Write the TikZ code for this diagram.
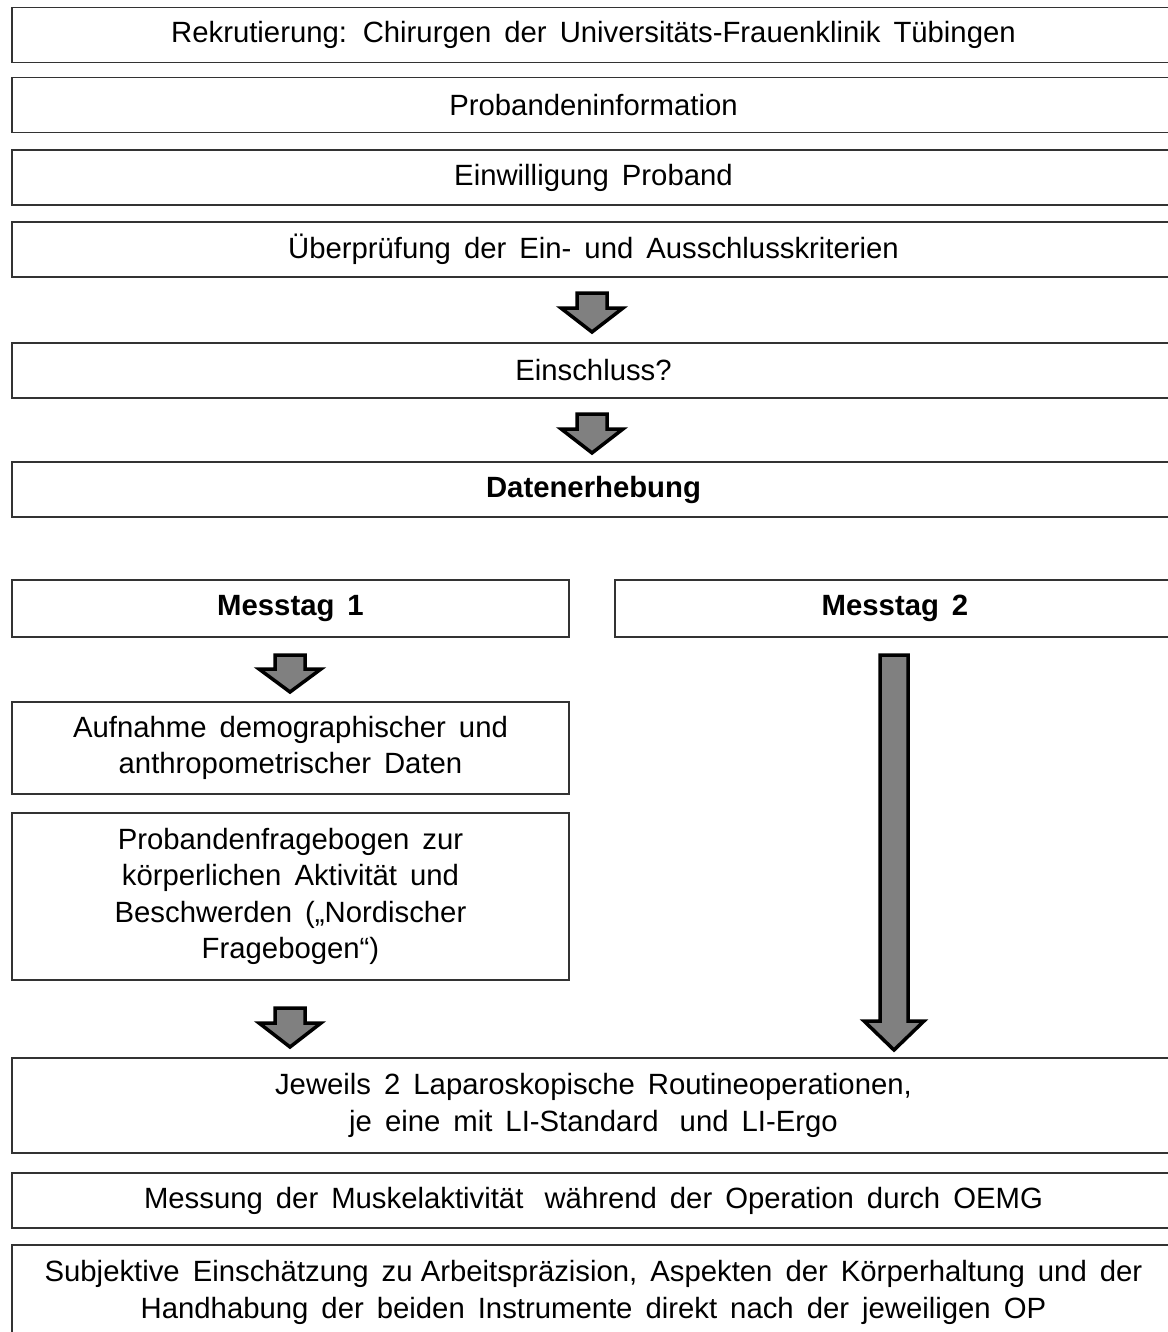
\documentclass[tikz,border=0pt]{standalone}
\usepackage{fontspec}
\setmainfont{Liberation Sans}
\usepackage{tikz}
\usetikzlibrary{positioning}
\tikzset{
  box/.style    = {draw=black!80, line width=1.6pt, minimum height=#1, inner sep=0pt,
                   align=center, font=\fontsize{29.3}{36.3}\selectfont},
  box/.default  = 55pt,
  full/.style   = {box=#1, minimum width=1163pt},
  full/.default = 55pt,
  half/.style   = {box=#1, minimum width=557pt},
  half/.default = 57pt,
  blk/.style    = {draw=black, line width=3.5pt, fill=black!50, line join=miter}
}
% block arrow: x, top, head base, tip, shaft half width, head half width
\newcommand{\blkarrow}[6]{%
  \draw[blk] (#1-#5,#2) -- (#1+#5,#2) -- (#1+#5,#3) -- (#1+#6,#3) -- (#1,#4)
    -- (#1-#6,#3) -- (#1-#5,#3) -- cycle;}

\begin{document}
\begin{tikzpicture}[x=1pt, y=-1pt]
  \useasboundingbox (0,0) rectangle (1167,1332);
  \fill[white] (0,0) rectangle (1167,1332);

  \node[full] (rekr) at (593.5, 35) {Rekrutierung:\, Chirurgen\, der\, Universitäts-Frauenklinik\, Tübingen};
  \node[full] (info) at (593.5,105) {Probandeninformation};
  \node[full] (einw) at (593.5,177.5) {Einwilligung\, Proband};
  \node[full] (prue) at (593.5,249.5) {Überprüfung\, der\, Ein-\, und\, Ausschlusskriterien};
  \blkarrow{592}{293}{308}{332}{15}{31}
  \node[full] (einschl) at (593.5,370.5) {Einschluss?};
  \blkarrow{592}{414}{429}{453}{15}{31}
  \node[full] (daten) at (593.5,489.5) {\bfseries Datenerhebung};

  \node[half] (mt1) at (290.5,608.5) {\bfseries Messtag\, 1};
  \node[half, minimum width=560pt] (mt2) at (895,608.5) {\bfseries Messtag\, 2};
  \blkarrow{290}{655}{669}{692}{15}{31}
  \node[half=92pt] (demo) at (290.5,748) {Aufnahme\, demographischer\, und\\anthropometrischer\, Daten};
  \node[half=167pt] (frage) at (290.5,896.5) {Probandenfragebogen\, zur\\körperlichen\, Aktivität\, und\\Beschwerden\, („Nordischer\\Fragebogen“)};
  \blkarrow{290}{1008}{1023}{1047}{15}{31}
  \blkarrow{894}{655}{1021}{1050}{14}{30}

  \node[full=95pt] (op) at (593.5,1105.5) {Jeweils\, 2\, Laparoskopische\, Routineoperationen,\\je\, eine\, mit\, LI-Standard\, \ und\, LI-Ergo};
  \node[full] (oemg) at (593.5,1200.5) {Messung\, der\, Muskelaktivität\, \ während\, der\, Operation\, durch\, OEMG};
  \node[full=95pt] (subj) at (593.5,1292.5) {Subjektive\, Einschätzung\, zu Arbeitspräzision,\, Aspekten\, der\, Körperhaltung\, und\, der\\Handhabung\, der\, beiden\, Instrumente\, direkt\, nach\, der\, jeweiligen\, OP};
\end{tikzpicture}
\end{document}
